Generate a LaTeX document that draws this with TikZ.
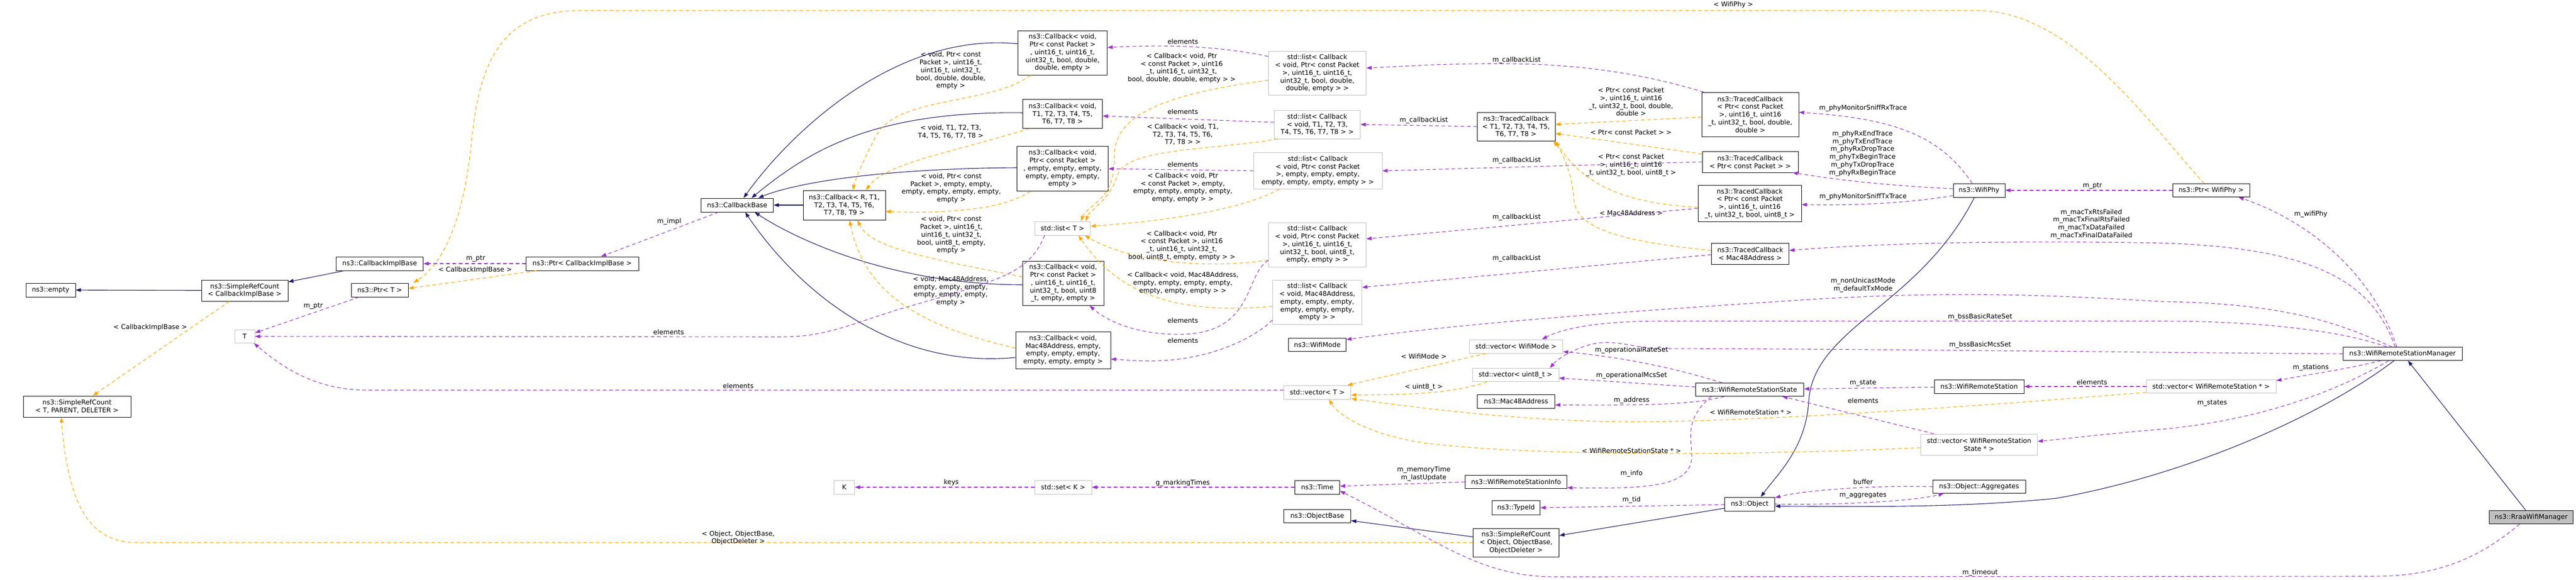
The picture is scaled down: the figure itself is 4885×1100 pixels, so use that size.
\documentclass[tikz,border=0pt]{standalone}
\usepackage{fontspec}
\setmainfont{DejaVu Sans}
\usetikzlibrary{arrows.meta}
\definecolor{inhblue}{HTML}{191970}
\definecolor{mempurple}{HTML}{9A32CD}
\definecolor{tplorange}{HTML}{FFA500}
\definecolor{extgray}{HTML}{BFBFBF}
\tikzset{
  cls/.style={draw=black, fill=white, line width=1pt, align=center, inner sep=1pt},
  ext/.style={cls, draw=extgray},
  root/.style={cls, fill=extgray},
  wh/.style 2 args={minimum width=#1pt, minimum height=#2pt},
  lbl/.style={align=center, inner sep=0pt},
  tip/.style={-{Triangle[length=10pt,width=7pt]}},
  inh/.style={tip, draw=inhblue, line width=1.1pt},
  mem/.style={tip, draw=mempurple, line width=1.1pt, dash pattern=on 7pt off 5pt},
  tpl/.style={tip, draw=tplorange, line width=1.1pt, dash pattern=on 7pt off 5pt},
}
\begin{document}
\begin{tikzpicture}[x=1pt, y=-1pt, font=\fontsize{12.5}{14.75}\selectfont]
\useasboundingbox (0,0) rectangle (4885,1100);
% classes
\node[cls, wh={94}{26}] (empty) at (96,550) {ns3::empty};
\node[cls, wh={164}{40}] (srcCib) at (464,551) {ns3::SimpleRefCount\\ < CallbackImplBase >};
\node[cls, wh={165}{26}] (cib) at (720,500) {ns3::CallbackImplBase};
\node[cls, wh={108}{26}] (ptrT) at (720,550) {ns3::Ptr< T >};
\node[ext, wh={38}{25}] (T) at (464,638) {T};
\node[cls, wh={204}{40}] (srcTPD) at (146,771) {ns3::SimpleRefCount\\ < T, PARENT, DELETER >};
\node[cls, wh={214}{26}] (ptrCib) at (1104,500) {ns3::Ptr< CallbackImplBase >};
\node[cls, wh={137}{26}] (cbBase) at (1398,389) {ns3::CallbackBase};
\node[cls, wh={156}{56}] (cbR) at (1601,389) {ns3::Callback< R, T1,\\ T2, T3, T4, T5, T6,\\ T7, T8, T9 >};
\node[cls, wh={169}{84}] (cbDbl) at (2015,100) {ns3::Callback< void,\\ Ptr< const Packet >\\ , uint16\_t, uint16\_t,\\ uint32\_t, bool, double,\\ double, empty >};
\node[cls, wh={151}{55}] (cbT) at (2015,216) {ns3::Callback< void,\\ T1, T2, T3, T4, T5,\\ T6, T7, T8 >};
\node[cls, wh={173}{85}] (cbPkt) at (2015,320) {ns3::Callback< void,\\ Ptr< const Packet >\\ , empty, empty, empty,\\ empty, empty, empty,\\ empty >};
\node[cls, wh={154}{84}] (cbU8) at (2016,537) {ns3::Callback< void,\\ Ptr< const Packet >\\ , uint16\_t, uint16\_t,\\ uint32\_t, bool, uint8\\ \_t, empty, empty >};
\node[cls, wh={180}{70}] (cbMac) at (2016,664) {ns3::Callback< void,\\ Mac48Address, empty,\\ empty, empty, empty,\\ empty, empty, empty >};
\node[ext, wh={105}{26}] (listT) at (2015,433) {std::list< T >};
\node[ext, wh={39}{26}] (K) at (1601,924) {K};
\node[ext, wh={108}{26}] (setK) at (2016,924) {std::set< K >};
\node[ext, wh={185}{83}] (listDbl) at (2498,139) {std::list< Callback\\ < void, Ptr< const Packet\\ >, uint16\_t, uint16\_t,\\ uint32\_t, bool, double,\\ double, empty > >};
\node[ext, wh={163}{54}] (listT1) at (2498,236) {std::list< Callback\\ < void, T1, T2, T3,\\ T4, T5, T6, T7, T8 > >};
\node[ext, wh={244}{69}] (listPkt) at (2499,324) {std::list< Callback\\ < void, Ptr< const Packet\\ >, empty, empty, empty,\\ empty, empty, empty, empty > >};
\node[ext, wh={185}{84}] (listU8) at (2498,464) {std::list< Callback\\ < void, Ptr< const Packet\\ >, uint16\_t, uint16\_t,\\ uint32\_t, bool, uint8\_t,\\ empty, empty > >};
\node[ext, wh={169}{84}] (listMac) at (2498,573) {std::list< Callback\\ < void, Mac48Address,\\ empty, empty, empty,\\ empty, empty, empty,\\ empty > >};
\node[cls, wh={109}{25}] (wifiMode) at (2498,654) {ns3::WifiMode};
\node[ext, wh={127}{26}] (vecT) at (2498,744) {std::vector< T >};
\node[cls, wh={85}{26}] (time) at (2498,924) {ns3::Time};
\node[cls, wh={127}{25}] (objBase) at (2498,979) {ns3::ObjectBase};
\node[cls, wh={148}{54}] (tcT) at (2875,240) {ns3::TracedCallback\\ < T1, T2, T3, T4, T5,\\ T6, T7, T8 >};
\node[ext, wh={177}{26}] (vecMode) at (2875,657) {std::vector< WifiMode >};
\node[ext, wh={164}{25}] (vecU8) at (2874,711) {std::vector< uint8\_t >};
\node[cls, wh={147}{26}] (mac48) at (2875,761) {ns3::Mac48Address};
\node[cls, wh={193}{25}] (info) at (2875,914) {ns3::WifiRemoteStationInfo};
\node[cls, wh={91}{27}] (typeId) at (2875,963) {ns3::TypeId};
\node[cls, wh={163}{54}] (srcObj) at (2875,1029) {ns3::SimpleRefCount\\ < Object, ObjectBase,\\ ObjectDeleter >};
\node[cls, wh={184}{84}] (tcDbl) at (3319,217) {ns3::TracedCallback\\ < Ptr< const Packet\\ >, uint16\_t, uint16\\ \_t, uint32\_t, bool, double,\\ double >};
\node[cls, wh={182}{40}] (tcPkt) at (3319,307) {ns3::TracedCallback\\ < Ptr< const Packet > >};
\node[cls, wh={196}{69}] (tcU8) at (3318,386) {ns3::TracedCallback\\ < Ptr< const Packet\\ >, uint16\_t, uint16\\ \_t, uint32\_t, bool, uint8\_t >};
\node[cls, wh={147}{40}] (tcMac) at (3319,481) {ns3::TracedCallback\\ < Mac48Address >};
\node[cls, wh={205}{25}] (state) at (3318,739) {ns3::WifiRemoteStationState};
\node[cls, wh={95}{26}] (object) at (3318,956) {ns3::Object};
\node[cls, wh={98}{26}] (wifiPhy) at (3753,361) {ns3::WifiPhy};
\node[cls, wh={170}{26}] (station) at (3753,733) {ns3::WifiRemoteStation};
\node[ext, wh={221}{40}] (vecState) at (3753,843) {std::vector< WifiRemoteStation\\ State * >};
\node[cls, wh={176}{25}] (aggr) at (3753,923) {ns3::Object::Aggregates};
\node[cls, wh={146}{25}] (ptrPhy) at (4193,361) {ns3::Ptr< WifiPhy >};
\node[ext, wh={246}{25}] (vecStation) at (4193,733) {std::vector< WifiRemoteStation * >};
\node[cls, wh={226}{25}] (wrsm) at (4556,671) {ns3::WifiRemoteStationManager};
\node[root, wh={159}{25}] (rraa) at (4800,981) {ns3::RraaWifiManager};
% inheritance
\draw[inh] (srcCib) -- (empty);
\draw[inh] (cib) -- (srcCib);
\draw[inh] (cbR) -- (cbBase);
\draw[inh] ([yshift=17pt]cbDbl.west) .. controls (1700,60) and (1500,250) .. ([xshift=12pt]cbBase.north);
\draw[inh] ([yshift=2pt]cbT.west) .. controls (1650,210) and (1530,290) .. ([xshift=27pt]cbBase.north);
\draw[inh] ([yshift=2pt]cbPkt.west) .. controls (1650,320) and (1500,350) .. ([xshift=40pt]cbBase.north);
\draw[inh] ([yshift=-3pt]cbU8.west) .. controls (1700,540) and (1520,460) .. ([xshift=33pt]cbBase.south);
\draw[inh] ([yshift=-14pt]cbMac.west) .. controls (1700,700) and (1520,560) .. ([xshift=15pt]cbBase.south);
\draw[inh] (srcObj) -- (objBase);
\draw[inh] (object) -- (srcObj);
\draw[inh] ([xshift=-9pt]wifiPhy.south) .. controls (3640,580) and (3440,620) .. (3430,760) .. controls (3425,850) and (3370,900) .. ([xshift=21pt]object.north);
\draw[inh] ([xshift=-16pt]wrsm.south) .. controls (4400,790) and (4150,900) .. (3900,945) .. controls (3700,965) and (3500,960) .. ([yshift=-4pt]object.east);
\draw[inh] (rraa) -- (wrsm);
% members
\draw[mem] (ptrCib) -- (cib);
\node[lbl] (lPtrCib) at (902,491) {m\_ptr};
\draw[mem] (ptrT) -- (T);
\node[lbl] (lPtrT) at (594,581) {m\_ptr};
\draw[mem] (cbBase) -- (ptrCib);
\node[lbl] (lImpl) at (1269,420) {m\_impl};
\draw[mem] ([xshift=-34pt]listT.south) .. controls (1950,520) and (1900,530) .. (1700,588) .. controls (1600,620) and (1560,639) .. (1480,639) -- (T.east);
\node[lbl] (lElemList) at (1268,630) {elements};
\draw[mem] ([yshift=4pt]vecT.west) -- (700,740) .. controls (600,740) and (540,700) .. ([xshift=-2pt]T.south east);
\node[lbl] (lElemVec) at (1400,732) {elements};
\draw[mem] (setK) -- (K);
\node[lbl] (lKeys) at (1804,915) {keys};
\draw[mem] (time) -- (setK);
\node[lbl] (lMarking) at (2243,916) {g\_markingTimes};
\draw[mem] ([yshift=32pt]listDbl.west) .. controls (2300,85) and (2200,85) .. ([yshift=10pt]cbDbl.east);
\node[lbl] (lElemDbl) at (2243,79) {elements};
\draw[mem] ([yshift=4pt]listT1.west) -- ([yshift=-4pt]cbT.east);
\node[lbl] (lElemT) at (2243,212) {elements};
\draw[mem] (listPkt.west) -- (cbPkt.east);
\node[lbl] (lElemPkt) at (2243,312) {elements};
\draw[mem] ([yshift=-30pt]listU8.west) .. controls (2360,520) and (2380,630) .. (2243,634) .. controls (2160,636) and (2100,610) .. ([xshift=50pt]cbU8.south);
\node[lbl] (lElemU8) at (2243,608) {elements};
\draw[mem] ([yshift=-34pt]listMac.west) .. controls (2380,640) and (2300,680) .. (2200,684) .. controls (2160,686) and (2130,682) .. ([yshift=-17pt]cbMac.east);
\node[lbl] (lElemMac) at (2243,646) {elements};
\draw[mem] (tcT.west) -- (listT1.east);
\node[lbl] (lCbT) at (2700,228) {m\_callbackList};
\draw[mem] ([xshift=4pt]tcDbl.north west) .. controls (3050,120) and (2900,118) .. (2750,122) .. controls (2700,123) and (2640,127) .. ([yshift=10pt]listDbl.east);
\node[lbl] (lCbDbl) at (2876,114) {m\_callbackList};
\draw[mem] (tcPkt.west) -- (listPkt.east);
\node[lbl] (lCbPkt) at (2876,304) {m\_callbackList};
\draw[mem] ([yshift=-9pt]tcU8.west) -- ([yshift=11pt]listU8.east);
\node[lbl] (lCbU8) at (2876,412) {m\_callbackList};
\draw[mem] ([yshift=-2pt]tcMac.west) -- ([yshift=28pt]listMac.east);
\node[lbl] (lCbMac) at (2876,490) {m\_callbackList};
\draw[mem] ([xshift=-13pt]wifiPhy.north) .. controls (3680,260) and (3600,225) .. ([yshift=4pt]tcDbl.east);
\node[lbl] (lSniffRx) at (3533,205) {m\_phyMonitorSniffRxTrace};
\draw[mem] ([yshift=3pt]wifiPhy.west) .. controls (3550,350) and (3480,340) .. ([xshift=-11pt]tcPkt.south east);
\node[lbl] (lPhyTrace) at (3532,291) {m\_phyRxEndTrace\\ m\_phyTxEndTrace\\ m\_phyRxDropTrace\\ m\_phyTxBeginTrace\\ m\_phyTxDropTrace\\ m\_phyRxBeginTrace};
\draw[mem] ([yshift=-10pt]wifiPhy.west) .. controls (3620,385) and (3520,390) .. ([yshift=-2pt]tcU8.east);
\node[lbl] (lSniffTx) at (3533,373) {m\_phyMonitorSniffTxTrace};
\draw[mem] (ptrPhy) -- (wifiPhy);
\node[lbl] (lPtrPhy) at (3968,353) {m\_ptr};
\draw[mem] ([xshift=-14pt]wrsm.north) .. controls (4500,540) and (4400,470) .. (4100,461) .. controls (3800,455) and (3550,462) .. ([yshift=6pt]tcMac.east);
\node[lbl] (lMacTx) at (3966,425) {m\_macTxRtsFailed\\ m\_macTxFinalRtsFailed\\ m\_macTxDataFailed\\ m\_macTxFinalDataFailed};
\draw[mem] ([xshift=-20pt]wrsm.north) .. controls (4450,620) and (4350,575) .. (4100,572) .. controls (3900,560) and (3700,550) .. (3400,570) .. controls (3100,590) and (2800,610) .. ([yshift=10pt]wifiMode.east);
\node[lbl] (lTxMode) at (3533,541) {m\_nonUnicastMode\\ m\_defaultTxMode};
\draw[mem] ([xshift=-30pt]wrsm.north) .. controls (4450,630) and (4300,609) .. (4100,609) -- (3150,609) .. controls (3020,609) and (2960,625) .. ([xshift=49pt]vecMode.north);
\node[lbl] (lRateSet) at (3755,601) {m\_bssBasicRateSet};
\draw[mem] (wrsm.west) .. controls (4000,668) and (3600,662) .. (3150,661) .. controls (3090,660) and (3060,640) .. (3010,655) .. controls (2970,668) and (2950,685) .. ([xshift=65pt]vecU8.north);
\node[lbl] (lMcsSet) at (3755,654) {m\_bssBasicMcsSet};
\draw[mem] ([xshift=-41pt]wrsm.south) .. controls (4450,700) and (4380,710) .. ([yshift=11pt]vecStation.east);
\node[lbl] (lStations) at (4382,697) {m\_stations};
\draw[mem] ([xshift=-26pt]wrsm.south) .. controls (4400,760) and (4250,800) .. (4100,814) .. controls (4000,822) and (3920,832) .. ([yshift=6pt]vecState.east);
\node[lbl] (lStates) at (4195,765) {m\_states};
\draw[mem] ([xshift=-11pt]wrsm.north) .. controls (4500,520) and (4380,420) .. ([xshift=52pt]ptrPhy.south);
\node[lbl] (lWifiPhy) at (4382,406) {m\_wifiPhy};
\draw[mem] (station) -- (state);
\node[lbl] (lState) at (3533,727) {m\_state};
\draw[mem] (vecStation) -- (station);
\node[lbl] (lElemSta) at (3967,725) {elements};
\draw[mem] ([xshift=-86pt]vecState.north) -- ([xshift=-41pt]state.south east);
\node[lbl] (lElemState) at (3533,760) {elements};
\draw[mem] ([xshift=-52pt]state.north) .. controls (3150,690) and (3050,675) .. ([yshift=-10pt]vecMode.east);
\node[lbl] (lOpRate) at (3094,664) {m\_operationalRateSet};
\draw[mem] ([yshift=5pt]state.west) -- ([yshift=-6pt]vecU8.east);
\node[lbl] (lOpMcs) at (3094,712) {m\_operationalMcsSet};
\draw[mem] ([xshift=-48pt]state.south) .. controls (3200,770) and (3100,768) .. ([yshift=-7pt]mac48.east);
\node[lbl] (lAddress) at (3094,759) {m\_address};
\draw[mem] ([xshift=-73pt]state.south) .. controls (3200,790) and (3205,820) .. (3208,860) .. controls (3212,920) and (3140,928) .. ([yshift=-11pt]info.east);
\node[lbl] (lInfo) at (3094,898) {m\_info};
\draw[mem] ([yshift=-1pt]object.west) -- (typeId.east);
\node[lbl] (lTid) at (3094,948) {m\_tid};
\draw[mem] (aggr.west) .. controls (3550,920) and (3420,930) .. ([yshift=12pt]object.east);
\node[lbl] (lBuffer) at (3533,914) {buffer};
\draw[mem] (object.east) .. controls (3500,958) and (3630,950) .. ([xshift=-67pt]aggr.south);
\node[lbl] (lAggr) at (3533,940) {m\_aggregates};
\draw[mem] (info.west) -- ([yshift=2pt]time.east);
\node[lbl] (lMemTime) at (2700,899) {m\_memoryTime\\ m\_lastUpdate};
\draw[mem] ([xshift=-22pt]rraa.south) .. controls (4700,1060) and (4620,1093) .. (4500,1093) -- (2950,1094) .. controls (2800,1094) and (2720,1020) .. ([yshift=-7pt]time.east);
\node[lbl] (lTimeout) at (3755,1086) {m\_timeout};
% templates
\draw[tpl] ([xshift=-13pt]ptrPhy.north) .. controls (4080,240) and (3930,20) .. (3750,20) -- (1100,20) .. controls (950,20) and (910,120) .. (895,260) .. controls (880,420) and (840,500) .. ([xshift=64pt]ptrT.north);
\node[lbl] (lWifiPhyTpl) at (3287,9) {< WifiPhy >};
\draw[tpl] ([xshift=-87pt]ptrCib.south) -- ([yshift=3pt]ptrT.east);
\node[lbl] (lCibPtr) at (901,512) {< CallbackImplBase >};
\draw[tpl] ([xshift=-29pt]srcCib.south) -- ([xshift=30pt]srcTPD.north);
\node[lbl] (lCibSrc) at (285,621) {< CallbackImplBase >};
\draw[tpl] (srcObj.west) -- (260,1029) .. controls (170,1029) and (130,960) .. ([xshift=-30pt]srcTPD.south);
\node[lbl] (lObjSrc) at (1400,1020) {< Object, ObjectBase,\\ ObjectDeleter >};
\draw[tpl] ([xshift=-61pt]cbDbl.south) .. controls (1880,200) and (1700,180) .. (1660,260) .. controls (1640,300) and (1625,330) .. ([xshift=16pt]cbR.north);
\node[lbl] (lTplDbl) at (1803,134) {< void, Ptr< const\\ Packet >, uint16\_t,\\ uint16\_t, uint32\_t,\\ bool, double, double,\\ empty >};
\draw[tpl] ([xshift=-63pt]cbT.south) .. controls (1800,290) and (1680,310) .. ([xshift=41pt]cbR.north);
\node[lbl] (lTplT) at (1803,250) {< void, T1, T2, T3,\\ T4, T5, T6, T7, T8 >};
\draw[tpl] ([xshift=-61pt]cbPkt.south) .. controls (1900,400) and (1780,405) .. ([yshift=-12pt]cbR.east);
\node[lbl] (lTplPkt) at (1804,357) {< void, Ptr< const\\ Packet >, empty, empty,\\ empty, empty, empty, empty,\\ empty >};
\draw[tpl] ([yshift=12pt]cbU8.west) .. controls (1760,490) and (1650,470) .. ([xshift=25pt]cbR.south);
\node[lbl] (lTplU8) at (1804,446) {< void, Ptr< const\\ Packet >, uint16\_t,\\ uint16\_t, uint32\_t,\\ bool, uint8\_t, empty,\\ empty >};
\draw[tpl] ([yshift=4pt]cbMac.west) .. controls (1750,620) and (1640,560) .. ([xshift=10pt]cbR.south);
\node[lbl] (lTplMac) at (1803,552) {< void, Mac48Address,\\ empty, empty, empty,\\ empty, empty, empty,\\ empty >};
\draw[tpl] ([yshift=-13pt]listDbl.west) .. controls (2200,180) and (2110,220) .. (2113,300) .. controls (2115,380) and (2060,390) .. ([xshift=35pt]listT.north);
\node[lbl] (lListDbl) at (2241,129) {< Callback< void, Ptr\\ < const Packet >, uint16\\ \_t, uint16\_t, uint32\_t,\\ bool, double, double, empty > >};
\draw[tpl] ([xshift=-75pt]listT1.south) .. controls (2300,285) and (2140,280) .. (2120,330) .. controls (2105,380) and (2065,400) .. ([xshift=44pt]listT.north);
\node[lbl] (lListT) at (2243,255) {< Callback< void, T1,\\ T2, T3, T4, T5, T6,\\ T7, T8 > >};
\draw[tpl] ([xshift=-73pt]listPkt.south) .. controls (2350,400) and (2200,420) .. ([yshift=4pt]listT.east);
\node[lbl] (lListPkt) at (2243,356) {< Callback< void, Ptr\\ < const Packet >, empty,\\ empty, empty, empty, empty,\\ empty, empty > >};
\draw[tpl] ([yshift=-29pt]listU8.west) .. controls (2300,510) and (2150,500) .. ([xshift=42pt]listT.south);
\node[lbl] (lListU8) at (2241,466) {< Callback< void, Ptr\\ < const Packet >, uint16\\ \_t, uint16\_t, uint32\_t,\\ bool, uint8\_t, empty, empty > >};
\draw[tpl] ([yshift=-8pt]listMac.west) .. controls (2200,600) and (2110,540) .. ([xshift=30pt]listT.south);
\node[lbl] (lListMac) at (2243,537) {< Callback< void, Mac48Address,\\ empty, empty, empty, empty,\\ empty, empty, empty > >};
\draw[tpl] ([yshift=-5pt]tcDbl.west) -- ([yshift=4pt]tcT.east);
\node[lbl] (lTcDbl) at (3093,193) {< Ptr< const Packet\\ >, uint16\_t, uint16\\ \_t, uint32\_t, bool, double,\\ double >};
\draw[tpl] ([yshift=15pt]tcPkt.west) -- ([yshift=-13pt]tcT.east);
\node[lbl] (lTcPkt) at (3093,251) {< Ptr< const Packet > >};
\draw[tpl] ([yshift=-7pt]tcU8.west) .. controls (3050,385) and (2990,330) .. (tcT.south east);
\node[lbl] (lTcU8) at (3093,313) {< Ptr< const Packet\\ >, uint16\_t, uint16\\ \_t, uint32\_t, bool, uint8\_t >};
\draw[tpl] ([yshift=6pt]tcMac.west) .. controls (3100,460) and (2990,440) .. (2985,380) .. controls (2980,320) and (2960,285) .. ([xshift=-4pt]tcT.south east);
\node[lbl] (lTcMac) at (3093,404) {< Mac48Address >};
\draw[tpl] ([xshift=-57pt]vecMode.south) -- ([xshift=57pt]vecT.north);
\node[lbl] (lVecMode) at (2700,676) {< WifiMode >};
\draw[tpl] ([xshift=-54pt]vecU8.south) .. controls (2760,745) and (2680,749) .. ([yshift=-5pt]vecT.east);
\node[lbl] (lVecU8) at (2700,734) {< uint8\_t >};
\draw[tpl] ([yshift=-11pt]vecStation.west) .. controls (3700,775) and (3300,800) .. (3100,800) .. controls (2900,800) and (2700,775) .. ([yshift=-12pt]vecT.east);
\node[lbl] (lVecSta) at (3320,782) {< WifiRemoteStation * >};
\draw[tpl] ([yshift=-6pt]vecState.west) .. controls (3300,865) and (2900,865) .. (2700,840) .. controls (2600,825) and (2540,790) .. ([xshift=22pt]vecT.south);
\node[lbl] (lVecState) at (3094,855) {< WifiRemoteStationState * >};
\end{tikzpicture}
\end{document}
